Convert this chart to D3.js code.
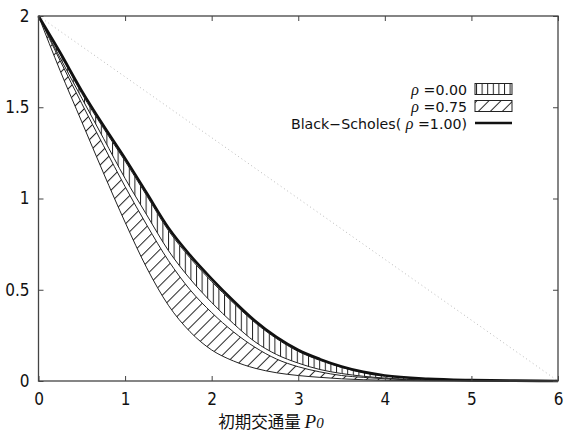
<!DOCTYPE html>
<html>
<head>
<meta charset="utf-8">
<script src="https://cdn.jsdelivr.net/npm/d3@7"></script>
<style>
  body { margin: 0; background: #fff; }
  svg { display: block; }
</style>
</head>
<body>
<div id="chart"></div>
<script>
const W = 565, H = 432
const LEFT = 38.5, RIGHT = 558, TOP = 16, BOTTOM = 381

// x grid of the curves (P0)
const p0 = [0, 0.25, 0.5, 0.75, 1.0, 1.25, 1.5, 1.75, 2.0, 2.25, 2.5, 2.75, 3.0, 3.25, 3.5, 3.75, 4.0, 4.5, 5.0, 5.5, 6.0]

// Black-Scholes (rho = 1.00)
const bs      = [2.00, 1.80, 1.59, 1.40, 1.22, 1.03, 0.84, 0.69, 0.56, 0.44, 0.33, 0.24, 0.17, 0.12, 0.08, 0.05, 0.03, 0.012, 0.005, 0.002, 0]
// rho = 0.00 band
const rho0Up  = [2.00, 1.79, 1.575, 1.385, 1.205, 1.015, 0.825, 0.675, 0.545, 0.428, 0.32, 0.232, 0.162, 0.113, 0.074, 0.046, 0.028, 0.011, 0.004, 0.001, 0]
const rho0Lo  = [2.00, 1.77, 1.55, 1.33, 1.11, 0.91, 0.715, 0.56, 0.43, 0.315, 0.215, 0.145, 0.098, 0.063, 0.041, 0.026, 0.016, 0.005, 0.002, 0.0005, 0]
// rho = 0.75 band
const rho75Up = [2.00, 1.755, 1.52, 1.29, 1.065, 0.855, 0.66, 0.50, 0.375, 0.27, 0.185, 0.12, 0.078, 0.05, 0.03, 0.02, 0.012, 0.004, 0.001, 0, 0]
const rho75Lo = [2.00, 1.70, 1.42, 1.14, 0.87, 0.62, 0.415, 0.27, 0.17, 0.11, 0.07, 0.045, 0.03, 0.02, 0.012, 0.007, 0.004, 0.001, 0, 0, 0]

const xTicks = [0, 1, 2, 3, 4, 5, 6]
const yTicks = [0, 0.5, 1, 1.5, 2]
const intrinsic = [[0, 2], [6, 0]]

const svg = d3.select("#chart").append("svg")
    .attr("width", W)
    .attr("height", H)

const x = d3.scaleLinear().domain([0, 6]).range([LEFT, RIGHT])
const y = d3.scaleLinear().domain([0, 2]).range([BOTTOM, TOP])

const defs = svg.append("defs")
defs.append("pattern")
    .attr("id", "vhatch")
    .attr("patternUnits", "userSpaceOnUse")
    .attr("width", 5.6).attr("height", 10)
  .append("line")
    .attr("x1", 0.5).attr("x2", 0.5).attr("y1", 0).attr("y2", 10)
    .attr("stroke", "#222").attr("stroke-width", 1)
defs.append("pattern")
    .attr("id", "dhatch")
    .attr("patternUnits", "userSpaceOnUse")
    .attr("width", 8.5).attr("height", 10)
    .attr("patternTransform", "rotate(45)")
  .append("line")
    .attr("x1", 0.5).attr("x2", 0.5).attr("y1", 0).attr("y2", 10)
    .attr("stroke", "#222").attr("stroke-width", 1)

// dotted diagonal
svg.append("path")
    .attr("d", d3.line().x(d => x(d[0])).y(d => y(d[1]))(intrinsic))
    .attr("fill", "none")
    .attr("stroke", "#bbb")
    .attr("stroke-width", 1)
    .attr("stroke-dasharray", "1,3")

function band(up, lo, pat) {
    const rows = p0.map((v, i) => ({ x: v, a: up[i], b: lo[i] }))
    const area = d3.area().curve(d3.curveMonotoneX)
        .x(d => x(d.x)).y0(d => y(d.b)).y1(d => y(d.a))
    svg.append("path").attr("d", area(rows))
        .attr("fill", `url(#${pat})`).attr("stroke", "none")
    const line = d3.line().curve(d3.curveMonotoneX)
    ;[up, lo].forEach(s => {
        svg.append("path")
            .attr("d", line.x((d, i) => x(p0[i])).y(d => y(d))(s))
            .attr("fill", "none").attr("stroke", "#222").attr("stroke-width", 1)
    })
}
band(rho75Up, rho75Lo, "dhatch")
band(rho0Up, rho0Lo, "vhatch")

svg.append("path")
    .attr("d", d3.line().curve(d3.curveMonotoneX).x((d, i) => x(p0[i])).y(d => y(d))(bs))
    .attr("fill", "none")
    .attr("stroke", "#111")
    .attr("stroke-width", 2.6)

// frame + ticks (inward, mirrored)
const frame = "#444"
svg.append("rect")
    .attr("x", LEFT).attr("y", TOP)
    .attr("width", RIGHT - LEFT).attr("height", BOTTOM - TOP)
    .attr("fill", "none").attr("stroke", frame).attr("stroke-width", 1.3)

const fmt = d => String(d)
const axFont = "'DejaVu Sans Condensed', 'Liberation Sans', sans-serif"

svg.append("g").attr("transform", `translate(0,${BOTTOM})`)
    .call(d3.axisBottom(x).tickValues(xTicks).tickFormat(fmt).tickSize(-5).tickPadding(12))
svg.append("g").attr("transform", `translate(${LEFT},0)`)
    .call(d3.axisLeft(y).tickValues(yTicks).tickFormat(fmt).tickSize(-5).tickPadding(9))
svg.append("g").attr("transform", `translate(0,${TOP})`)
    .call(d3.axisTop(x).tickValues(xTicks).tickFormat("").tickSize(-5))
svg.append("g").attr("transform", `translate(${RIGHT},0)`)
    .call(d3.axisRight(y).tickValues(yTicks).tickFormat("").tickSize(-5))

svg.selectAll(".domain").remove()
svg.selectAll(".tick line").attr("stroke", frame)
svg.selectAll(".tick text")
    .attr("font-family", axFont)
    .attr("font-size", 17)
    .attr("fill", "#111")

// x label
const xl = svg.append("text")
    .attr("x", 271).attr("y", 428)
    .attr("text-anchor", "middle")
    .attr("font-size", 16.5)
    .attr("fill", "#111")
xl.append("tspan").attr("font-family", "'Noto Sans CJK JP', sans-serif").text("初期交通量 ")
xl.append("tspan").attr("font-family", "'Liberation Serif', serif").attr("font-style", "italic").attr("font-size", 19).text("P")
xl.append("tspan").attr("font-family", "'Liberation Serif', serif").attr("font-style", "italic").attr("font-size", 15).text("0")

// legend
const legend = [
    { pre: "", rho: "0.00", post: "", kind: "vhatch" },
    { pre: "", rho: "0.75", post: "", kind: "dhatch" },
    { pre: "Black\u2212Scholes(", rho: "1.00", post: ")", kind: "line" }
]
const legFont = "'DejaVu Sans', sans-serif"
legend.forEach((d, i) => {
    const cy = 89 + i * 17
    const t = svg.append("text")
        .attr("x", 467).attr("y", cy + 5.5)
        .attr("text-anchor", "end")
        .attr("font-family", legFont)
        .attr("font-size", 14.2)
        .attr("fill", "#111")
    if (d.pre) t.append("tspan").text(d.pre + " ")
    t.append("tspan").attr("font-family", "'Liberation Serif', serif").attr("font-style", "italic").attr("font-size", 16).text("ρ")
    t.append("tspan").text(" =" + d.rho + d.post)
    if (d.kind === "line") {
        svg.append("line")
            .attr("x1", 475).attr("x2", 512).attr("y1", cy).attr("y2", cy)
            .attr("stroke", "#111").attr("stroke-width", 2.6)
    } else {
        svg.append("rect")
            .attr("x", 475).attr("y", cy - 5.5).attr("width", 37).attr("height", 11)
            .attr("fill", `url(#${d.kind})`)
            .attr("stroke", "#222").attr("stroke-width", 1)
    }
})
</script>
</body>
</html>
